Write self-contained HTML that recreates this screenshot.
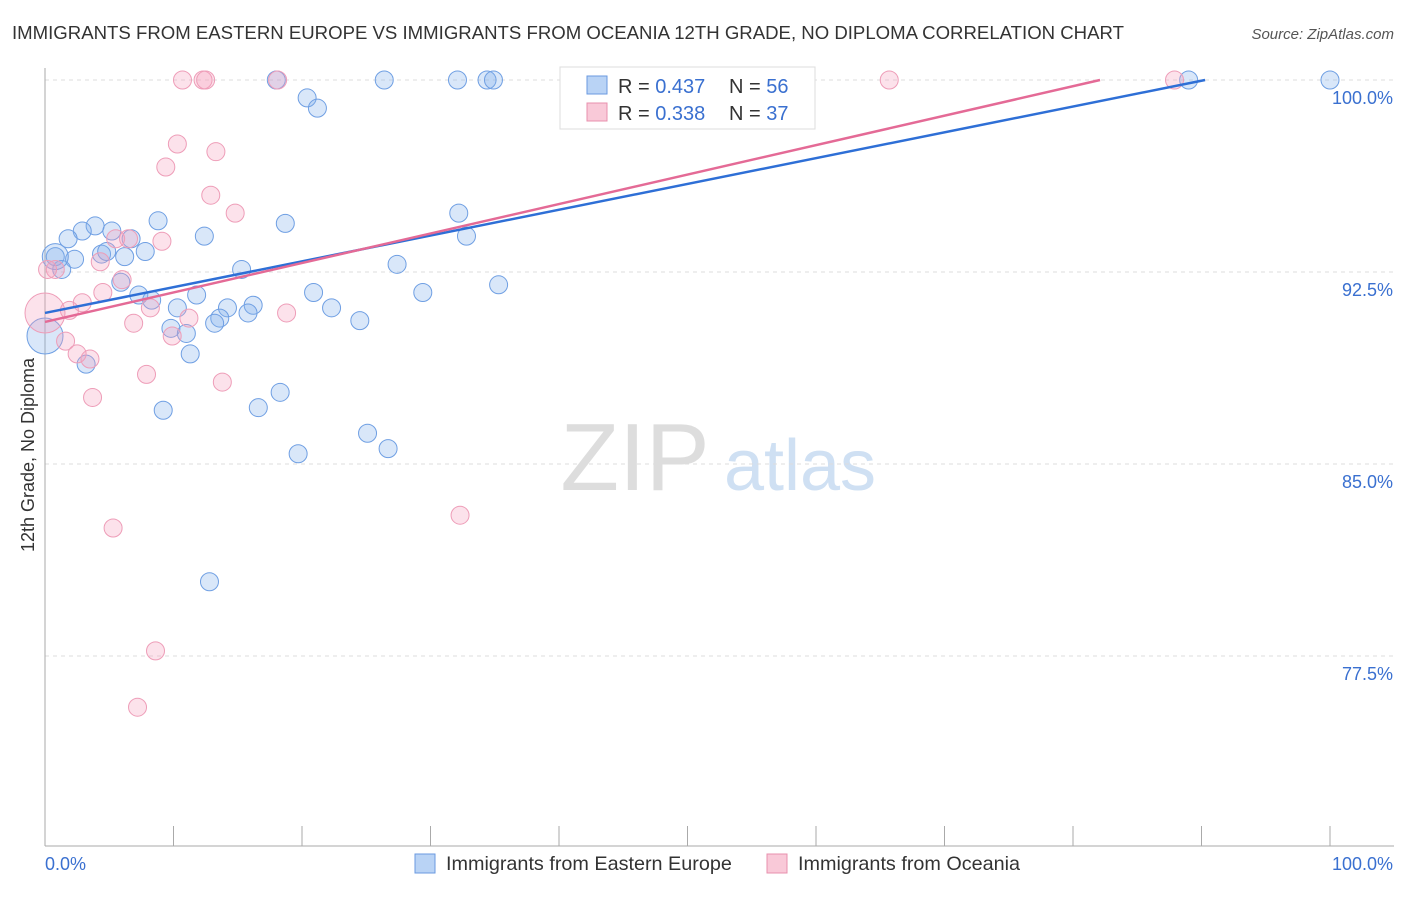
<!DOCTYPE html>
<html><head><meta charset="utf-8"><style>
body{margin:0;background:#fff;font-family:"Liberation Sans",sans-serif;}
svg text{font-family:"Liberation Sans",sans-serif;}
</style></head><body>
<svg id="c" width="1406" height="892" xmlns="http://www.w3.org/2000/svg">
<text x="12" y="39" font-size="18.6" fill="#333">IMMIGRANTS FROM EASTERN EUROPE VS IMMIGRANTS FROM OCEANIA 12TH GRADE, NO DIPLOMA CORRELATION CHART</text>
<text x="1394" y="39" font-size="15" fill="#555" text-anchor="end" font-style="italic">Source: ZipAtlas.com</text>
<text x="34" y="455" font-size="18" fill="#333" text-anchor="middle" transform="rotate(-90 34 455)">12th Grade, No Diploma</text>
<g><text x="635" y="490" font-size="96" fill="#ddd" text-anchor="middle" font-family="Liberation Serif">ZIP</text><text x="800" y="490" font-size="72" fill="#cfe0f3" text-anchor="middle">atlas</text></g>
<g id="grid"></g><g id="axes"></g><g id="pts"></g><g id="lines"></g>
<g>
<rect x="560" y="67" width="255" height="62" fill="#fff" stroke="#ddd"/>
<rect x="587" y="76" width="20" height="18" fill="#b9d3f5" stroke="#6a9ae0"/>
<text x="618" y="93" font-size="20" fill="#333">R = <tspan fill="#3a70d0">0.437</tspan></text>
<text x="729" y="93" font-size="20" fill="#333">N = <tspan fill="#3a70d0">56</tspan></text>
<rect x="587" y="103" width="20" height="18" fill="#f9c9d8" stroke="#e890ae"/>
<text x="618" y="120" font-size="20" fill="#333">R = <tspan fill="#3a70d0">0.338</tspan></text>
<text x="729" y="120" font-size="20" fill="#333">N = <tspan fill="#3a70d0">37</tspan></text>
</g>
<g>
<rect x="415" y="854" width="20" height="19" fill="#b9d3f5" stroke="#6a9ae0"/>
<text x="446" y="870" font-size="19.8" fill="#333">Immigrants from Eastern Europe</text>
<rect x="767" y="854" width="20" height="19" fill="#f9c9d8" stroke="#e890ae"/>
<text x="798" y="870" font-size="19.8" fill="#333">Immigrants from Oceania</text>
</g>
<text x="45" y="870" font-size="18" fill="#3a70d0">0.0%</text>
<text x="1393" y="870" font-size="18" fill="#3a70d0" text-anchor="end">100.0%</text>
</svg>
<script>
const yTicks=[100,92.5,85,77.5];
const yTickLabels=["100.0%","92.5%","85.0%","77.5%"];
const blueX=[18,26.4,32.1,34.4,34.9,89,100,20.4,21.2,32.2,32.8,18.7,8.8,12.4,3.9,5.2,2.9,1.8,6.7,0.8,2.3,1.3,4.4,4.8,7.8,6.2,15.3,27.4,35.3,29.4,20.9,22.3,16.2,14.2,11.8,10.3,7.3,8.3,5.9,13.6,13.2,15.8,24.5,9.8,11,11.3,3.2,9.2,16.6,18.3,25.1,26.7,19.7,12.8,0,0.8];
const blueY=[100,100,100,100,100,100,100,99.3,98.9,94.8,93.9,94.4,94.5,93.9,94.3,94.1,94.1,93.8,93.8,93.1,93,92.6,93.2,93.3,93.3,93.1,92.6,92.8,92,91.7,91.7,91.1,91.2,91.1,91.6,91.1,91.6,91.4,92.1,90.7,90.5,90.9,90.6,90.3,90.1,89.3,88.9,87.1,87.2,87.8,86.2,85.6,85.4,80.4,90,93.1];
const blueR=[9,9,9,9,9,9,9,9,9,9,9,9,9,9,9,9,9,9,9,9,9,9,9,9,9,9,9,9,9,9,9,9,9,9,9,9,9,9,9,9,9,9,9,9,9,9,9,9,9,9,9,9,9,9,18,13];
const pinkX=[10.7,12.3,12.5,18.1,65.7,87.9,10.3,13.3,9.4,12.9,14.8,9.1,5.5,6.5,4.3,0.8,6,4.5,2.9,1.9,8.2,11.2,6.9,9.9,18.8,1.6,2.5,3.5,7.9,13.8,3.7,5.3,32.3,8.6,7.2,0,0.2];
const pinkY=[100,100,100,100,100,100,97.5,97.2,96.6,95.5,94.8,93.7,93.8,93.8,92.9,92.6,92.2,91.7,91.3,91,91.1,90.7,90.5,90,90.9,89.8,89.3,89.1,88.5,88.2,87.6,82.5,83,77.7,75.5,90.9,92.6];
const pinkR=[9,9,9,9,9,9,9,9,9,9,9,9,9,9,9,9,9,9,9,9,9,9,9,9,9,9,9,9,9,9,9,9,9,9,9,20,9];
const blueFit=[90.9,0.1008];
const pinkFit=[90.55,0.1151];
const X=v=>45+v*12.85, Y=v=>80+(100-v)*25.6;
const ns="http://www.w3.org/2000/svg";
function mk(p,t,a){const e=document.createElementNS(ns,t);for(const k in a)e.setAttribute(k,a[k]);p.appendChild(e);return e;}
const grid=document.getElementById('grid'),axes=document.getElementById('axes');
yTicks.forEach((t,i)=>{
 const l=mk(grid,'line',{x1:45,x2:1394,y1:Y(t),y2:Y(t),stroke:'#ddd','stroke-dasharray':'4,4'});
 
 
 const tx=mk(axes,'text',{x:1393,y:Y(t)+24,'font-size':18,fill:'#3a70d0','text-anchor':'end'});
 tx.textContent=yTickLabels[i];
 
 
});
const ya=mk(axes,'line',{x1:45,x2:45,y1:68,y2:846,stroke:'#aaa'});


const xa=mk(axes,'line',{x1:45,x2:1394,y1:846,y2:846,stroke:'#aaa'});


for(let i=0;i<=10;i++){const t=mk(axes,'line',{x1:X(i*10),x2:X(i*10),y1:826,y2:846,stroke:'#aaa'});
 
 }
const pts=document.getElementById('pts');
function draw(xs,ys,rs,fill,stroke,name){xs.forEach((x,i)=>{
 const c=mk(pts,'circle',{cx:X(x),cy:Y(ys[i]),r:rs[i],fill:fill,stroke:stroke,'stroke-width':1});
 
 });}
draw(blueX,blueY,blueR,'rgba(130,175,235,0.3)','#6f9fe3','point-eastern-europe');
draw(pinkX,pinkY,pinkR,'rgba(245,160,190,0.3)','#ee9db8','point-oceania');
const lines=document.getElementById('lines');
function fit(f,col,name){const xe=Math.min(100,(100-f[0])/f[1]);
 const l=mk(lines,'line',{x1:X(0),y1:Y(f[0]),x2:X(xe),y2:Y(f[0]+f[1]*xe),stroke:col,'stroke-width':2.5});
 
 }
fit(blueFit,'#2e6fd6','trend-eastern-europe');
fit(pinkFit,'#e46a96','trend-oceania');
</script>
</body></html>
